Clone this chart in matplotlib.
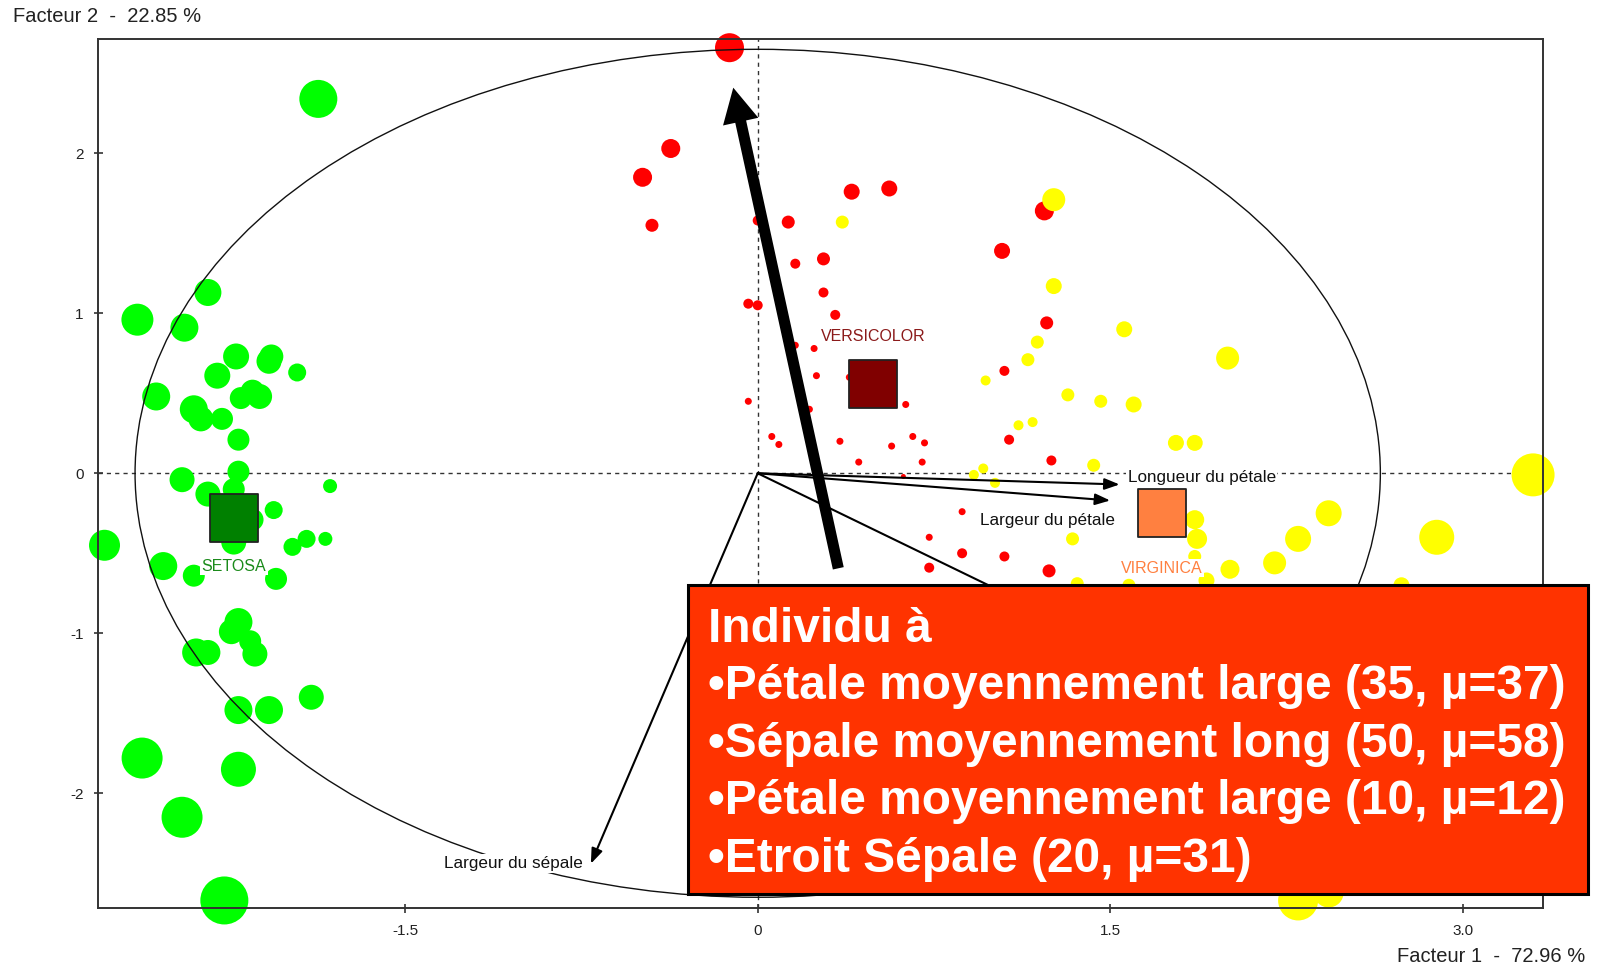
import matplotlib
matplotlib.use('Agg')
import matplotlib.pyplot as plt
from matplotlib.patches import Ellipse, Rectangle, FancyArrowPatch
import numpy as np

# ---------------- data ----------------
setosa_x = [-1.87, -2.34, -2.64, -2.44, -2.22, -2.08, -2.07, -1.96, -2.30, -2.56,
            -2.20, -2.12, -2.15, -2.40, -2.37, -2.28, -2.21, -2.21, -2.45, -2.34,
            -2.23, -2.15, -2.06, -1.82, -1.92, -1.98, -1.84, -2.78, -2.53, -2.40,
            -2.05, -2.23, -2.21, -2.24, -2.16, -2.14, -2.39, -2.34, -1.90, -2.21,
            -2.08, -2.62, -2.21, -2.45, -2.27]
setosa_y = [2.34, 1.13, 0.96, 0.91, 0.73, 0.70, 0.73, 0.63, 0.61, 0.48,
            0.47, 0.48, 0.51, 0.40, 0.34, 0.34, 0.21, 0.01, -0.04, -0.13,
            -0.10, -0.29, -0.23, -0.08, -0.41, -0.46, -0.41, -0.45, -0.58, -0.64,
            -0.66, -0.43, -0.93, -0.99, -1.05, -1.13, -1.12, -1.12, -1.40, -1.48,
            -1.48, -1.78, -1.85, -2.15, -2.67]
setosa_w = [38, 27, 32, 28, 26, 25, 24, 18, 26, 28,
            22, 25, 24, 28, 25, 22, 22, 22, 25, 25,
            22, 22, 18, 14, 18, 18, 14, 31, 28, 22,
            22, 25, 28, 25, 22, 25, 28, 25, 25, 28,
            28, 41, 35, 41, 48]

versicolor_x = [-0.12, -0.37, -0.49, -0.45, 0.13, 0.00, 0.16, 0.28, 0.28, -0.04,
                0.00, 0.40, 0.56, 0.33, 0.24, 0.16, 0.25, 0.39, -0.04, 0.22,
                0.63, 1.22, 1.04, 1.23, 1.05, 1.07, 0.66, 0.71, 0.57, 0.35,
                0.06, 0.09, 0.43, 0.70, 0.62, 0.92, 1.25, 0.87, 0.73, 0.87,
                0.73, 1.05, 1.24]
versicolor_y = [2.66, 2.03, 1.85, 1.55, 1.57, 1.58, 1.31, 1.34, 1.13, 1.06,
                1.05, 1.76, 1.78, 0.99, 0.78, 0.80, 0.61, 0.60, 0.45, 0.40,
                0.43, 1.64, 1.39, 0.94, 0.64, 0.21, 0.23, 0.19, 0.17, 0.20,
                0.23, 0.18, 0.07, 0.07, -0.02, -0.03, 0.08, -0.24, -0.40, -0.50,
                -0.59, -0.52, -0.61]
versicolor_w = [29, 19, 19, 13, 13, 10, 10, 13, 10, 10,
                10, 16, 16, 10, 7, 7, 7, 7, 7, 7,
                7, 19, 16, 13, 10, 10, 7, 7, 7, 7,
                7, 7, 7, 7, 5, 5, 10, 7, 7, 10,
                10, 10, 13]

virginica_x = [1.26, 0.36, 1.26, 1.56, 1.19, 1.15, 0.97, 1.32, 1.46, 1.60,
               1.17, 1.11, 1.78, 1.86, 2.00, 0.96, 0.92, 1.01, 1.43, 1.34,
               1.36, 1.58, 3.30, 2.43, 2.30, 2.20, 2.01, 2.89, 1.86, 1.87,
               1.86, 1.91, 2.74, 2.30, 2.43]
virginica_y = [1.71, 1.57, 1.17, 0.90, 0.82, 0.71, 0.58, 0.49, 0.45, 0.43,
               0.32, 0.30, 0.19, 0.19, 0.72, 0.03, -0.01, -0.06, 0.05, -0.41,
               -0.69, -0.70, -0.01, -0.25, -0.41, -0.56, -0.60, -0.40, -0.29, -0.41,
               -0.52, -0.67, -0.70, -2.67, -2.62]
virginica_w = [23, 13, 16, 16, 13, 13, 10, 13, 13, 16,
               10, 10, 16, 16, 23, 10, 10, 10, 13, 13,
               13, 13, 43, 26, 26, 23, 19, 35, 19, 20,
               13, 16, 16, 40, 30]

group_names = ['SETOSA', 'VERSICOLOR', 'VIRGINICA']
group_cx = [-2.23, 0.49, 1.72]
group_cy = [-0.28, 0.56, -0.25]

var_names = ['Longueur du pétale', 'Largeur du pétale', 'Longueur du sépale', 'Largeur du sépale']
var_x = [1.54, 1.50, 1.60, -0.71]
var_y = [-0.07, -0.17, -1.14, -2.44]

circle_radius = 2.65

x_ticks = [-1.5, 0, 1.5, 3.0]
x_tick_labels = ['-1.5', '0', '1.5', '3.0']
y_ticks = [-2, -1, 0, 1, 2]
y_tick_labels = ['-2', '-1', '0', '1', '2']

x_title = 'Facteur 1  -  72.96 %'
y_title = 'Facteur 2  -  22.85 %'

highlight_from = (0.343, -0.594)
highlight_to = (-0.104, 2.41)

box_lines = ['Individu à',
             '•Pétale moyennement large (35, µ=37)',
             '•Sépale moyennement long (50, µ=58)',
             '•Pétale moyennement large (10, µ=12)',
             '•Etroit Sépale (20, µ=31)']

# ---------------- figure ----------------
W, H, DPI = 1598, 965, 100
PT = 72.0 / DPI  # points per pixel
plt.rcParams['font.family'] = ['Liberation Sans', 'DejaVu Sans']

fig = plt.figure(figsize=(W / DPI, H / DPI), dpi=DPI)
fig.patch.set_facecolor('white')

def fx(px):
    return px / W

def fy(py):
    return 1 - py / H

L, R, T, B = 97.7, 1542.7, 39.3, 908.3
ax = fig.add_axes([fx(L), fy(B), fx(R) - fx(L), fy(T) - fy(B)])
ax.set_xlim(-2.809, 3.341)
ax.set_ylim(-2.719, 2.7125)

for s in ax.spines.values():
    s.set_color('#333333')
    s.set_linewidth(1.4)

ax.set_xticks(x_ticks)
ax.set_xticklabels(x_tick_labels)
ax.set_yticks(y_ticks)
ax.set_yticklabels(y_tick_labels)
ax.tick_params(axis='both', direction='inout', length=9 * PT, width=1.2,
               color='#333333', labelsize=11, labelcolor='#222222')
ax.tick_params(axis='y', pad=7)
ax.tick_params(axis='x', pad=8)

# axis dashed lines
ax.axhline(0, color='#333333', lw=1.0, dashes=(3, 3), zorder=1)
ax.axvline(0, color='#333333', lw=1.0, dashes=(3, 3), zorder=1)

def msize(w):
    return (np.asarray(w) * PT) ** 2

ax.scatter(setosa_x, setosa_y, s=msize(setosa_w), c='#00FF00', edgecolors='none',
           zorder=2, clip_on=False)
ax.scatter(versicolor_x, versicolor_y, s=msize(versicolor_w), c='#FF0000', edgecolors='none',
           zorder=2.1, clip_on=False)
ax.scatter(virginica_x, virginica_y, s=msize(virginica_w), c='#FFFF00', edgecolors='none',
           zorder=2.2, clip_on=False)

# correlation circle (ellipse in screen)
ax.add_patch(Ellipse((0, 0), 2 * circle_radius, 2 * circle_radius, fill=False,
                     edgecolor='#111111', lw=1.0, zorder=2.5))

# variable arrows
for name, vx, vy in zip(var_names, var_x, var_y):
    arr = FancyArrowPatch((0, 0), (vx, vy), arrowstyle='-|>,head_length=9,head_width=3.4',
                          mutation_scale=1, shrinkA=0, shrinkB=0, color='black',
                          lw=1.5, zorder=3)
    ax.add_patch(arr)

label_specs = {
    'Longueur du pétale': dict(offset=(8, 7), ha='left'),
    'Largeur du pétale': dict(offset=(5, -20), ha='right'),
    'Largeur du sépale': dict(offset=(-8, 0), ha='right'),
}
for name, vx, vy in zip(var_names, var_x, var_y):
    if name not in label_specs:
        continue
    sp = label_specs[name]
    ax.annotate(name, (vx, vy), xytext=(sp['offset'][0] * PT, sp['offset'][1] * PT),
                textcoords='offset points', ha=sp['ha'], va='center', fontsize=12.3,
                color='#111111', zorder=4,
                bbox=dict(boxstyle='square,pad=0.1', fc='white', ec='none'))

# group centroids
group_colors = ['#008000', '#800000', '#FF8040']
group_text_colors = ['#1A8A1A', '#8B1A1A', '#FF8040']
group_label_dy = [-48, 47, -55]
for name, cx, cy, col, tcol, dy in zip(group_names, group_cx, group_cy, group_colors,
                                       group_text_colors, group_label_dy):
    ax.scatter([cx], [cy], marker='s', s=(48 * PT) ** 2, c=col, edgecolors='#222222',
               linewidths=1.3, zorder=4)
    ax.annotate(name, (cx, cy), xytext=(0, dy * PT), textcoords='offset points',
                ha='center', va='center', fontsize=11.5, color=tcol, zorder=4,
                bbox=dict(boxstyle='square,pad=0.1', fc='white', ec='none'))

# highlighting arrow
big = FancyArrowPatch(highlight_from, highlight_to,
                      arrowstyle='simple,head_length=25,head_width=26,tail_width=8',
                      mutation_scale=1, shrinkA=0, shrinkB=0, color='black', lw=0,
                      zorder=5)
ax.add_patch(big)

# axis titles
fig.text(fx(12.7), fy(17), y_title, ha='left', va='center', fontsize=14.5, color='#222222')
fig.text(fx(1585), fy(956), x_title, ha='right', va='center', fontsize=14.5, color='#222222')

# annotation box
bx0, by0, bx1, by1 = 688, 585, 1587.5, 894
fig.add_artist(Rectangle((fx(bx0), fy(by1)), fx(bx1) - fx(bx0), fy(by0) - fy(by1),
                         transform=fig.transFigure, facecolor='#FF3300',
                         edgecolor='black', lw=2.2, zorder=10))
baselines = [641.7, 699.2, 756.7, 814.2, 871.7]
for line, yb in zip(box_lines, baselines):
    fig.text(fx(708), fy(yb), line, ha='left', va='baseline', fontsize=34.5,
             fontweight='bold', color='white', zorder=11)

fig.savefig('out.png', dpi=DPI)
